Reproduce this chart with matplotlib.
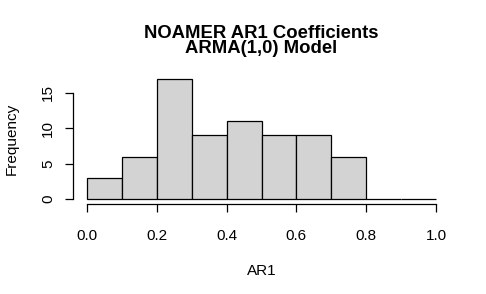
import matplotlib
matplotlib.use("Agg")
import matplotlib.pyplot as plt

plt.rcParams['font.family'] = ['Liberation Sans', 'DejaVu Sans']

bin_edges = [0.0, 0.1, 0.2, 0.3, 0.4, 0.5, 0.6, 0.7, 0.8, 0.9, 1.0]
counts = [3, 6, 17, 9, 11, 9, 9, 6, 0, 0]
x_ticks = [0.0, 0.2, 0.4, 0.6, 0.8, 1.0]
x_tick_labels = ["0.0", "0.2", "0.4", "0.6", "0.8", "1.0"]
y_ticks = [0, 5, 10, 15]
y_tick_labels = ["0", "5", "10", "15"]

W, H = 486, 294
fig = plt.figure(figsize=(W / 100, H / 100), dpi=100)
L, R, B, T = 73, 450, 204, 74
ax = fig.add_axes([L / W, (H - B) / H, (R - L) / W, (B - T) / H])

lefts = bin_edges[:-1]
widths = [bin_edges[i + 1] - bin_edges[i] for i in range(len(counts))]
ax.bar(lefts, counts, width=widths, align='edge', color='#D3D3D3',
       edgecolor='black', linewidth=0.9)

ax.set_xlim(-0.04, 1.04)
ax.set_ylim(-0.68, 17.68)

for s in ['top', 'right']:
    ax.spines[s].set_visible(False)
ax.spines['left'].set_bounds(0, 15)
ax.spines['bottom'].set_bounds(0, 1)
ax.spines['left'].set_linewidth(0.9)
ax.spines['bottom'].set_linewidth(0.9)

ax.set_xticks(x_ticks)
ax.set_xticklabels(x_tick_labels)
ax.set_yticks(y_ticks)
ax.set_yticklabels(y_tick_labels, rotation=90, va='center')
ax.tick_params(axis='both', length=6, width=0.9, labelsize=11)
ax.tick_params(axis='x', pad=12)
ax.tick_params(axis='y', pad=7)

ax.set_xlabel("AR1", fontsize=11, labelpad=15)
ax.set_ylabel("Frequency", fontsize=11, labelpad=16)
ax.set_title("NOAMER AR1 Coefficients\nARMA(1,0) Model", fontsize=13.3,
             fontweight='bold', linespacing=0.88, pad=15)

fig.savefig("out.png", dpi=100)
